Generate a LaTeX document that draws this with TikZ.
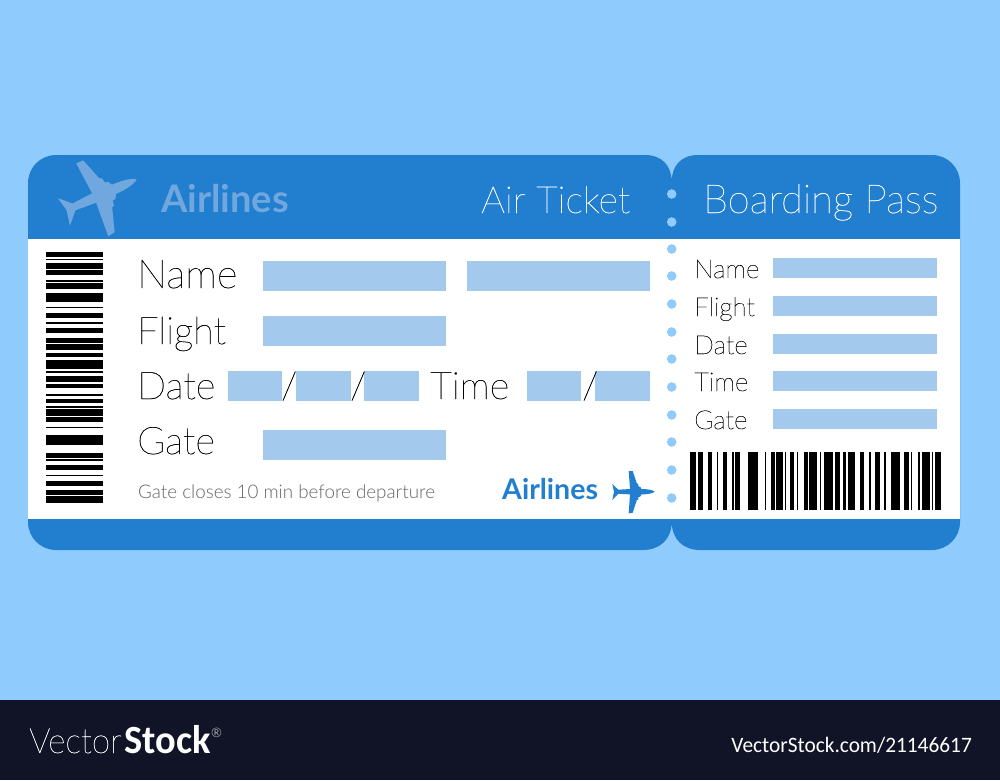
\documentclass[tikz,border=0pt]{standalone}
\usepackage{fontspec}
\setmainfont{Lato}
\newfontfamily\thinfont[FakeBold=0.6]{Lato Thin}
\newfontfamily\softfont{Lato Light}
\newfontfamily\footfont{Carlito}
\definecolor{skyback}{RGB}{144,203,253}
\definecolor{ticketblue}{RGB}{34,126,207}
\definecolor{fieldblue}{RGB}{163,202,236}
\definecolor{ghostblue}{RGB}{111,167,222}
\definecolor{footerdark}{RGB}{16,20,38}
\newcommand{\planeshape}{(20.7,0) .. controls (19,-1.8) and (13,-2.7) .. (7.5,-2.7)
    -- (6.2,-5) -- (4.6,-5.2) -- (4,-8) -- (2.8,-8.4) -- (-1.3,-20.7) -- (-5.3,-20.7)
    -- (-4,-2.7) -- (-15.7,-2) -- (-21.7,-7.7) -- (-20,0) -- (-21.7,8.3) -- (-15.7,2)
    -- (-4,2.7) -- (-5.3,21.7) -- (-1.3,21) -- (2.8,8.4) -- (4,8) -- (4.6,5.2) -- (6.2,5)
    -- (7.5,2.7) .. controls (13,2.7) and (19,1.8) .. (20.7,0) -- cycle}
\begin{document}
\begin{tikzpicture}[x=1pt,y=-1pt,
    field/.style={fill=fieldblue},
    bar/.style={fill=black},
    seat/.style={anchor=base west,inner sep=0pt,font=\thinfont\fontsize{38}{38}\selectfont,text=black},
    small/.style={anchor=base west,inner sep=0pt,font=\thinfont\fontsize{26}{26}\selectfont,text=black},
    head/.style={anchor=base west,inner sep=0pt,text=white},
    brand/.style={anchor=base west,inner sep=0pt}
]
    \useasboundingbox (0,0) rectangle (1000,780);
    \fill[skyback] (0,0) rectangle (1000,700);
    \fill[footerdark] (0,700) rectangle (1000,780);

    % ticket outline
    \fill[ticketblue] (28,183) .. controls (28,167.5) and (40.5,155) .. (56,155)
        -- (645,155) .. controls (662,155) and (671.7,166) .. (671.7,181.7)
        .. controls (671.7,166) and (681,155) .. (698,155)
        -- (932,155) .. controls (947.5,155) and (960,167.5) .. (960,183)
        -- (960,522) .. controls (960,537.5) and (947.5,550) .. (932,550)
        -- (700,550) .. controls (683,550) and (671.7,539) .. (671.7,521.7)
        .. controls (671.7,539) and (660,550) .. (643,550)
        -- (56,550) .. controls (40.5,550) and (28,537.5) .. (28,522) -- cycle;
    \fill[white] (28,239) rectangle (960,519);

    % perforation
    \foreach \dy in {194,222,249,276,304,332,359,387,415,442,470,498}
        \fill[skyback] (671.7,\dy) circle (4.8);

    % fields
    \foreach \xa/\ya/\xb/\yb in {
        263/261/446/291,467/261/650/291,263/316/446/346,
        228/371/282/401,296/371/351/401,364/371/419/401,
        527/371/581/401,595/371/650/401,263/430/446/460,
        773/258/937/278,773/296/937/316,773/334/937/354,
        773/371/937/391,773/409/937/429}
        \fill[field] (\xa,\ya) rectangle (\xb,\yb);

    % stub barcode
    \foreach \ya/\yb in {
        251.7/256.7,259/260.3,262.7/268.7,270.3/275,280/281.7,283.3/288.7,
        292.7/302.3,307/308.3,313.3/318.3,322.3/324,328.3/333.3,338/342.7,
        344/350,353/357.3,359.7/369.3,371.3/372.7,376/382.3,383.7/388.3,
        394.3/395.7,398.7/403.3,406.3/407.7,409.3/415.7,417.3/422,427/428.3,
        435.3/445,452.7/458,459.3/460.7,465.3/470.3,475/476.3,481/485.7,
        490.3/495,496.3/502.7}
        \fill[bar] (46,\ya) rectangle (103,\yb);

    \foreach \xa/\xb in {
        690.3/696.3,697.7/703,707.7/712.3,716.7/718,722.7/727.3,732/733.7,
        735.3/740.3,748/757.7,764.7/766,771/774.7,776/783,785/786.3,
        789.7/794.3,796.7/798.3,804.3/808,809.3/817,819.7/821.3,823.7/833.3,
        835.3/840,842.7/846,847.7/855,859.7/864.3,869/870.7,875/879.7,
        884.3/886,890.7/900.3,904.3/909,910.7/912,918/919.7,922.3/930,
        932/933.3,935.3/941.3}
        \fill[bar] (\xa,452) rectangle (\xb,510);

    % planes
    \begin{scope}[shift={(101,195)},rotate=23.7,scale=1.88]
        \fill[ghostblue] \planeshape;
    \end{scope}
    \begin{scope}[shift={(634,491.7)}]
        \fill[ticketblue] \planeshape;
    \end{scope}

    % header
    \node[brand,text=ghostblue,font=\bfseries\fontsize{38}{38}\selectfont] (brand-top) at (161,212) {Airlines};
    \node[head,font=\thinfont\fontsize{37.5}{37.5}\selectfont] (air-ticket) at (481,213) {Air Ticket};
    \node[head,font=\thinfont\fontsize{40}{40}\selectfont] (boarding-pass) at (703,213) {Boarding Pass};

    % main labels
    \node[seat,font=\thinfont\fontsize{40}{40}\selectfont] (name-main) at (137,288) {Name};
    \node[seat] (flight-main) at (137,344) {Flight};
    \node[seat] (date-main) at (137,399) {Date};
    \node[seat] (time-main) at (430,399) {Time};
    \node[seat] (gate-main) at (137,454) {Gate};
    \foreach \pos/\xs in {1/281,2/350,3/582}
        \node[seat] (slash-\pos) at (\xs,399) {/};

    % stub labels
    \foreach \kind/\ys in {Name/278,Flight/316,Date/354,Time/391,Gate/429}
        \node[small] (stub-\kind) at (694,\ys) {\kind};

    \node[brand,text=black!60,font=\softfont\fontsize{18.8}{18.8}\selectfont] (notice) at (138,498) {Gate closes 10 min before departure};
    \node[brand,text=ticketblue,font=\bfseries\fontsize{28.5}{28.5}\selectfont] (brand-low) at (502,499) {Airlines};

    % footer
    \node[brand,text=white,font=\thinfont\fontsize{35}{35}\selectfont] (logo-thin) at (29,753) {\scalebox{0.95}[1]{Vector}};
    \node[brand,text=white,font=\footfont\bfseries\fontsize{40}{40}\selectfont] (logo-bold) at (124,753) {\scalebox{0.96}[1]{Stock}};
    \node[brand,text=white,font=\softfont\fontsize{13}{13}\selectfont] (logo-mark) at (211,737) {®};
    \node[anchor=base east,inner sep=0pt,text=white,font=\footfont\fontsize{22}{22}\selectfont] (stock-id) at (972,752.7) {\scalebox{0.97}[1]{VectorStock.com/21146617}};
\end{tikzpicture}
\end{document}
